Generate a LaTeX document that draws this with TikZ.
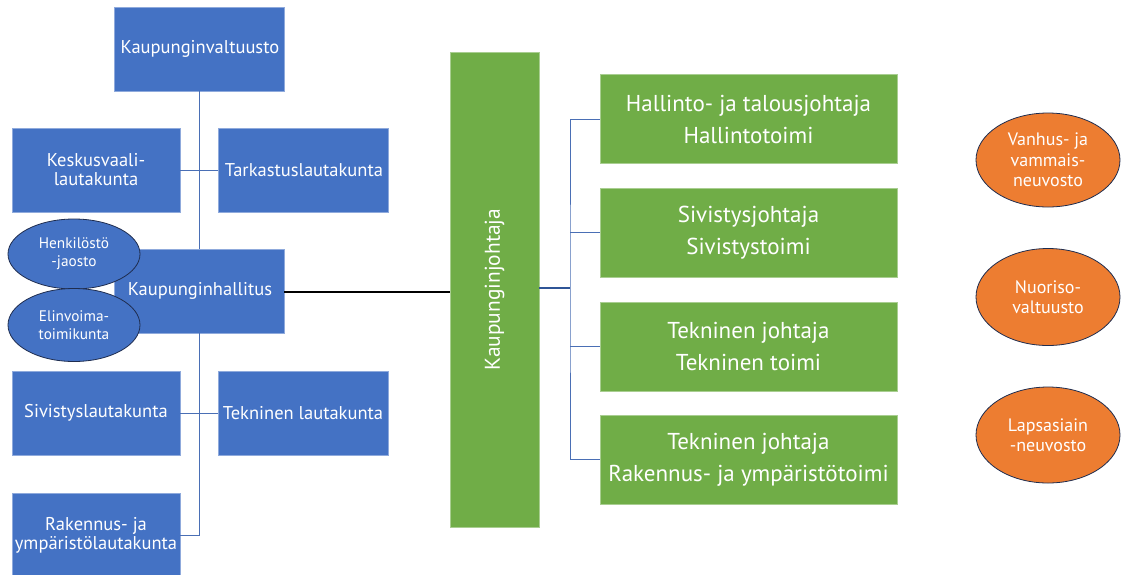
\documentclass[tikz,border=0pt]{standalone}
\usepackage{fontspec}
\setmainfont{PT Sans}
\usetikzlibrary{shapes.geometric}
\definecolor{cblue}{HTML}{4472C4}
\definecolor{cgreen}{HTML}{70AD47}
\definecolor{corange}{HTML}{ED7D31}
\definecolor{cnavy}{HTML}{1F2D4F}
\definecolor{cline}{HTML}{4A6FB5}
\definecolor{cdline}{HTML}{2F5597}
\tikzset{
  bluebox/.style={rectangle, fill=cblue, draw=cblue!60!white, line width=0.6pt, text=white, align=center,
    inner sep=0pt, font=\fontsize{18.5}{19}\selectfont},
  greenbox/.style={rectangle, fill=cgreen, draw=cgreen!60!white, line width=0.6pt, text=white, align=center,
    inner sep=0pt, font=\fontsize{23}{32}\selectfont, minimum width=297pt, minimum height=89pt},
  blueell/.style={ellipse, fill=cblue, draw=cnavy, line width=0.8pt, text=white, align=center,
    inner sep=0pt, minimum width=132pt, font=\fontsize{15.3}{18}\selectfont},
  orangeell/.style={ellipse, fill=corange, draw=cnavy, line width=0.8pt, text=white, align=center,
    inner sep=0pt, minimum width=144pt, font=\fontsize{18}{20.5}\selectfont},
  conn/.style={draw=cline, line width=1pt},
}
\begin{document}
\begin{tikzpicture}[x=1pt,y=-1pt]
\useasboundingbox (0,0) rectangle (1121,574);
\fill[white] (0,0) rectangle (1121,574);
\begin{scope}
\clip (0,0) rectangle (1121,574);
% blue boxes
\node[bluebox, minimum width=170pt, minimum height=84pt] (kv) at (199,49) {\hspace*{2pt}Kaupunginvaltuusto};
\node[bluebox, minimum width=168pt, minimum height=84pt] (kvl) at (96,170) {Keskusvaali-\\lautakunta};
\node[bluebox, minimum width=170pt, minimum height=84pt] (tark) at (303,170) {\hspace*{2pt}Tarkastuslautakunta};
\node[bluebox, minimum width=170pt, minimum height=84pt] (kh) at (199,291) {\hspace*{2pt}Kaupunginhallitus};
\node[bluebox, minimum width=168pt, minimum height=84pt] (siv) at (96,413) {Sivistyslautakunta};
\node[bluebox, minimum width=170pt, minimum height=84pt] (tek) at (303,413) {Tekninen lautakunta};
\node[bluebox, minimum width=168pt, minimum height=84pt] (rak) at (96,535) {Rakennus- ja\\ympäristölautakunta};
% connectors left
\draw[conn] (kv.south) -- (kh.north);
\draw[conn] (kvl.east) -- (tark.west);
\draw[conn] (kh.south) -- (kh.south |- rak.east) -- (rak.east);
\draw[conn] (siv.east) -- (tek.west);
% ellipses
\node[blueell, minimum height=70pt] (hen) at (74,254) {Henkilöstö\\-jaosto};
\node[blueell, minimum height=73pt] (eli) at (74,325) {Elinvoima-\\toimikunta};
% Kaupunginjohtaja
\node[rectangle, fill=cgreen, draw=cgreen!60!white, line width=0.6pt, minimum width=89pt, minimum height=475pt, inner sep=0pt] (kj) at (494.5,289.5) {};
\node[rotate=90, text=white, font=\fontsize{21.4}{22}\selectfont] (kjt) at (kj.center) {Kaupunginjohtaja};
\draw[black, line width=2pt] (kh.east |- 0,292) -- (kj.west |- 0,292);
% green boxes
\node[greenbox] (g1) at (748.5,119) {Hallinto- ja talousjohtaja\\Hallintotoimi};
\node[greenbox] (g2) at (748.5,232.5) {Sivistysjohtaja\\Sivistystoimi};
\node[greenbox] (g3) at (748.5,346.5) {Tekninen johtaja\\Tekninen toimi};
\node[greenbox] (g4) at (748.5,459.5) {Tekninen johtaja\\Rakennus- ja ympäristötoimi};
\coordinate (bus) at (570,288);
\draw[draw=cdline, line width=2pt] (kj.east |- bus) -- (bus);
\draw[conn] (g1.west) -| (bus) |- (g4.west);
\draw[conn] (g2.west) -- (g2.west -| bus);
\draw[conn] (g3.west) -- (g3.west -| bus);
% orange ellipses
\node[orangeell, minimum height=94pt] (o1) at (1048,160) {Vanhus- ja\\vammais-\\neuvosto};
\node[orangeell, minimum height=97pt] (o2) at (1048,297) {Nuoriso-\\valtuusto};
\node[orangeell, minimum height=96pt] (o3) at (1048,435) {Lapsasiain\\-neuvosto};
\end{scope}
\end{tikzpicture}
\end{document}
